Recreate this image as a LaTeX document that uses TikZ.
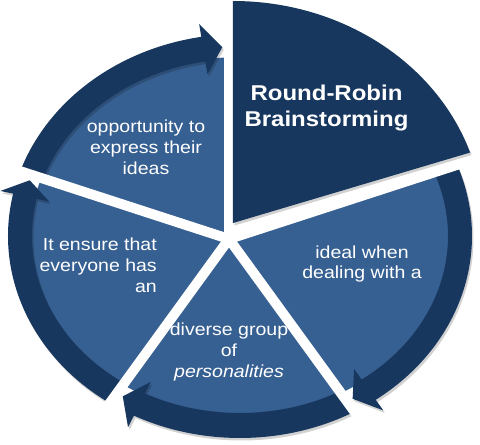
\documentclass[tikz,border=0pt]{standalone}
\usepackage{fontspec}
\setmainfont{Liberation Sans}
\newfontfamily\wideface[FakeStretch=1.12]{Liberation Sans}

\definecolor{cycledark}{HTML}{17375E}
\definecolor{cyclelight}{HTML}{376092}

\tikzset{
  segtext/.style={text=white, inner sep=0pt, align=center,
    font=\wideface\fontsize{17.5}{21}\selectfont},
  titletext/.style={text=white, inner sep=0pt, align=center,
    font=\wideface\bfseries\fontsize{21.5}{26.5}\selectfont},
  softshadow/.style={preaction={fill=black, fill opacity=0.18,
    transform canvas={shift={(1.5pt,-2.5pt)}}}},
  band/.style={fill=cycledark, softshadow},
  spoke/.style={draw=white, line width=10pt}
}

\begin{document}
\begin{tikzpicture}[scale=0.0352778]
\useasboundingbox (-240,-208) rectangle (240,236);
\coordinate (hub) at (-11,-3);
\coordinate (apex) at (-7,13);

% light segments
\fill[cyclelight] (hub) -- ({210*cos(21)},{179*sin(21)})
  arc[start angle=21, end angle=-267, x radius=210, y radius=179] -- cycle;

% arrows round the rim
\foreach \ts/\tb/\tt in {161.2/99.6/94.6, 20.9/-54.2/-59.2, -60.9/-117.2/-122.2, 236.1/167.9/162.9}
  \fill[band] ({232*cos(\ts)},{202*sin(\ts)})
    arc[start angle=\ts, end angle=\tb, x radius=232, y radius=202]
    -- ({245*cos(\tb)},{215*sin(\tb)}) -- ({220*cos(\tt)},{189.5*sin(\tt)})
    -- ({195*cos(\tb)},{164*sin(\tb)}) -- ({208*cos(\tb)},{177*sin(\tb)})
    arc[start angle=\tb, end angle=\ts, x radius=208, y radius=177] -- cycle;

% gaps between segments
\foreach \a in {18,90,162,234,306}
  \draw[spoke] (hub) -- ++(\a:260);

% exploded segment
\fill[cycledark, softshadow] (apex) -- ++(0,222)
  arc[start angle=90, end angle=18.5, x radius=250, y radius=222] -- cycle;

\node[titletext] (title) at (86.5,128) {Round-Robin\\Brainstorming};
\node[segtext] (opportunity) at (-94,89) {opportunity to\\express their\\ideas};
\node[segtext, align=right, anchor=east] (ensure) at (-83,-29) {It ensure that\\everyone has\\an};
\node[segtext] (ideal) at (122,-28) {ideal when\\dealing with a};
\node[segtext] (diverse) at (-11,-116) {diverse group\\of\\\textit{personalities}};
\end{tikzpicture}
\end{document}
